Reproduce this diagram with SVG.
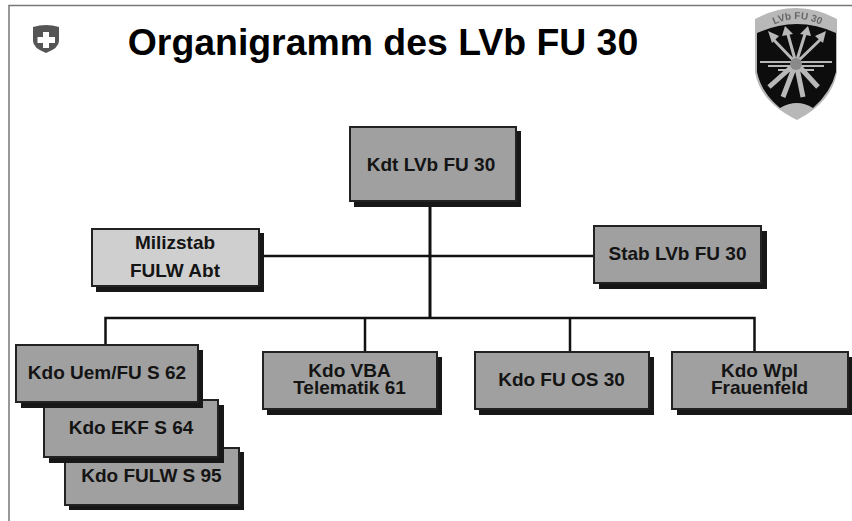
<svg xmlns="http://www.w3.org/2000/svg" width="852" height="521" viewBox="0 0 852 521">
<defs>
<style>
text{font-family:"Liberation Sans",Arial,sans-serif;font-weight:bold;fill:#141414;text-anchor:middle}
.l{font-size:19px}
.s{fill:#171717}
.b{fill:#a0a0a0;stroke:#222;stroke-width:2}
.c{fill:none;stroke:#111;stroke-width:2.500}
</style>
<filter id="soft" x="-5%" y="-5%" width="110%" height="110%"><feGaussianBlur stdDeviation="0.6"/></filter>
<path id="arc" d="M765 30Q797 8 830 30"/>
</defs>
<rect width="852" height="521" fill="#fff"/>
<path d="M9 521V5.500H852" fill="none" stroke="#777" stroke-width="1.500"/>
<g id="swiss-cross" filter="url(#soft)">
<path d="M33 27Q46 23 59 27V41Q59 48 46 53Q33 48 33 41Z" fill="#555"/>
<path d="M43 32H49V37H55V43H49V48H43V43H37.500V37H43Z" fill="#fff"/>
</g>
<text id="title" x="383" y="55" style="font-size:37.400px;fill:#000">Organigramm des LVb FU 30</text>
<g id="emblem" filter="url(#soft)">
<path d="M755 19Q796 -3 837 19V72Q832 102 797 120Q760 102 755 72Z" fill="#b8b8b8"/>
<path d="M757 33Q797 15 836 33V72Q831 92 813 108Q797 98 780 108Q761 92 757 72Z" fill="#0c0c0c"/>
<g stroke="#b8b8b8" fill="none">
<path stroke-width="3" d="M796 63L772 38M796 63L787 31M796 63L806 31M796 63L822 38"/>
<path stroke-width="5" d="M796 63L769 87M796 63L783 97M796 63L803 97M796 63L818 87"/>
<path stroke-width="2" d="M760 62H832M768 66H824M778 70H814"/>
</g>
<g fill="#b8b8b8"><path d="M768 31L779 36L772 43Z"/><path d="M785 26L793 34L782 36Z"/><path d="M808 26L811 36L800 34Z"/><path d="M826 31L823 43L815 36Z"/></g>
<circle cx="796" cy="64" r="6" fill="#8a8a8a"/>
<text style="font-size:10px;fill:#666"><textPath href="#arc" startOffset="50%">LVb FU 30</textPath></text>
</g>
<g id="connectors">
<path class="c" d="M430 203V318" style="stroke-width:3"/>
<path class="c" d="M262 256H594M105.500 345V318H754.500V352M365 318V352M570 318V352"/>
</g>
<g id="kdt"><rect class="s" x="354" y="131" width="167" height="76"/><rect class="b" x="350" y="127" width="166" height="74"/><text class="l" x="431" y="171">Kdt LVb FU 30</text></g>
<g id="milizstab"><rect class="s" x="96" y="233" width="168" height="59"/><rect x="92" y="229" width="167" height="57" fill="#cfcfcf" stroke="#222" stroke-width="2"/><text class="l" x="175" y="249">Milizstab</text><text class="l" x="175" y="277">FULW Abt</text></g>
<g id="stab"><rect class="s" x="599" y="231" width="168" height="58"/><rect class="b" x="594" y="226" width="167" height="57"/><text class="l" x="677.500" y="260">Stab LVb FU 30</text></g>
<g id="fulw"><rect class="s" x="69" y="452" width="175" height="58"/><rect class="b" x="65" y="448" width="174" height="57"/><text class="l" x="151.500" y="482">Kdo FULW S 95</text></g>
<g id="ekf"><rect class="s" x="49" y="405" width="175" height="58"/><rect class="b" x="44" y="400" width="174" height="57"/><text class="l" x="131" y="434">Kdo EKF S 64</text></g>
<g id="uem"><rect class="s" x="21" y="350" width="182" height="58"/><rect class="b" x="16" y="345" width="182" height="57"/><text class="l" x="107" y="379">Kdo Uem/FU S 62</text></g>
<g id="vba"><rect class="s" x="267" y="357" width="175" height="58"/><rect class="b" x="263" y="352" width="174" height="57"/><text class="l" x="349.500" y="377">Kdo VBA</text><text class="l" x="349.500" y="394">Telematik 61</text></g>
<g id="fuos"><rect class="s" x="479" y="357" width="175" height="58"/><rect class="b" x="475" y="352" width="174" height="57"/><text class="l" x="561.500" y="386">Kdo FU OS 30</text></g>
<g id="wpl"><rect class="s" x="677" y="357" width="175" height="58"/><rect class="b" x="672" y="352" width="176" height="57"/><text class="l" x="759.500" y="377">Kdo Wpl</text><text class="l" x="759.500" y="394">Frauenfeld</text></g>
</svg>
